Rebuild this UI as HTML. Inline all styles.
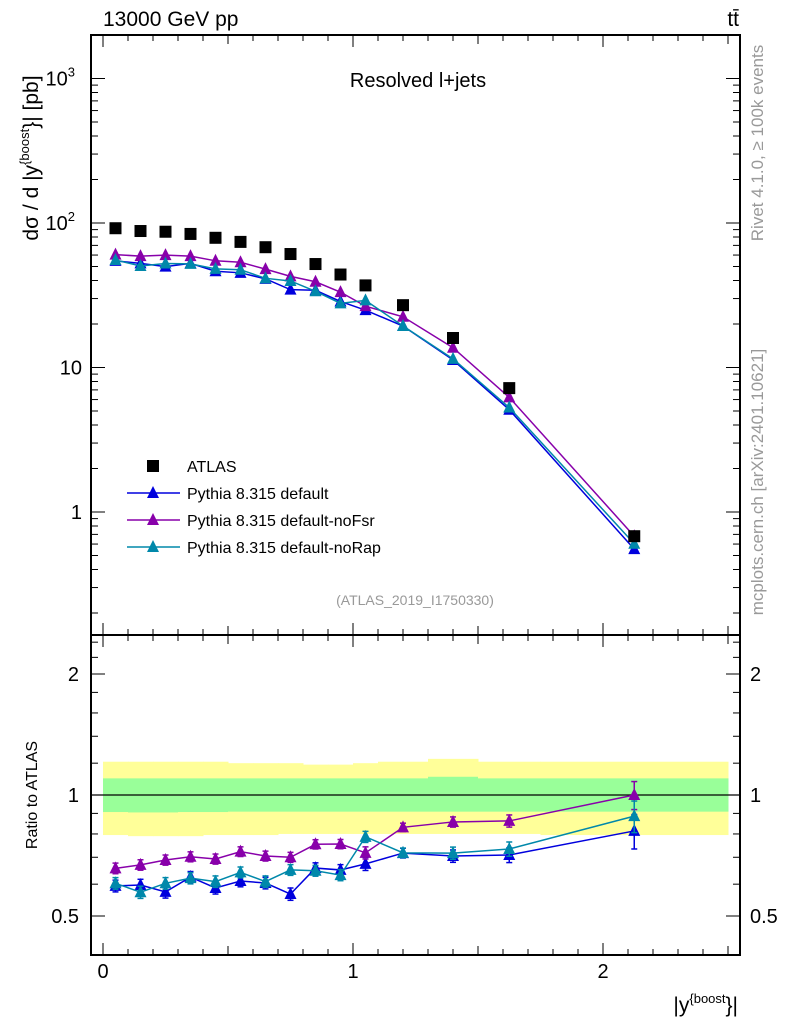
<!DOCTYPE html>
<html><head><meta charset="utf-8"><style>
body{margin:0;background:#fff;}
svg{display:block;font-family:"Liberation Sans",sans-serif;}
</style></head><body>
<svg id="c" width="786" height="1024"></svg>
<script>
const xCenters=[0.05,0.15,0.25,0.35,0.45,0.55,0.65,0.75,0.85,0.95,1.05,1.2,1.4,1.625,2.125];
const xLo=[0,0.1,0.2,0.3,0.4,0.5,0.6,0.7,0.8,0.9,1.0,1.1,1.3,1.5,1.75];
const xHi=[0.1,0.2,0.3,0.4,0.5,0.6,0.7,0.8,0.9,1.0,1.1,1.3,1.5,1.75,2.5];
const atlas=[92,88,87,84,79,74,68,61,52,44,37,27,16,7.2,0.68];
const ratioDefault=[0.594,0.597,0.574,0.625,0.587,0.611,0.604,0.567,0.658,0.651,0.674,0.717,0.705,0.709,0.814];
const ratioNoFsr=[0.657,0.670,0.689,0.702,0.693,0.723,0.705,0.700,0.754,0.755,0.718,0.831,0.857,0.862,1.0];
const ratioNoRap=[0.603,0.573,0.603,0.621,0.609,0.642,0.609,0.651,0.648,0.632,0.787,0.718,0.717,0.734,0.886];
const ratioErr=[0.02,0.02,0.02,0.02,0.02,0.02,0.02,0.02,0.02,0.02,0.025,0.02,0.025,0.03,0.08];
const greenUp=[1.10,1.10,1.10,1.10,1.10,1.10,1.10,1.10,1.10,1.10,1.10,1.10,1.11,1.10,1.10];
const greenDn=[0.907,0.905,0.905,0.907,0.907,0.909,0.909,0.909,0.909,0.909,0.909,0.909,0.909,0.909,0.909];
const yelUp=[1.21,1.21,1.21,1.21,1.21,1.20,1.20,1.20,1.19,1.19,1.20,1.21,1.23,1.21,1.21];
const yelDn=[0.795,0.79,0.79,0.79,0.795,0.795,0.795,0.80,0.80,0.80,0.80,0.80,0.80,0.80,0.795];
const xTicks=[0,1,2];
const mainTicks=[[1000,"10","3"],[100,"10","2"],[10,"10",""],[1,"1",""]];
const ratioTicks=[[2,"2"],[1,"1"],[0.5,"0.5"]];

const NS="http://www.w3.org/2000/svg";
const svg=document.getElementById('c');
function el(tag,attrs,parent){const e=document.createElementNS(NS,tag);for(const k in attrs)e.setAttribute(k,attrs[k]);(parent||svg).appendChild(e);return e;}
const L=91,R=740,T=35,M=635,B=955;
const X=v=>103+250*v;
const Y=v=>512-144.5*Math.log10(v);
const RY=v=>795-121*Math.log2(v);
const COL={def:"#0000dd",fsr:"#8800aa",rap:"#0088aa"};

for(let i=0;i<xCenters.length;i++){
  const r1=el('rect',{x:X(xLo[i]),y:RY(yelUp[i]),width:X(xHi[i])-X(xLo[i])+0.5,height:RY(yelDn[i])-RY(yelUp[i]),fill:"#ffff99"});
  
  const r2=el('rect',{x:X(xLo[i]),y:RY(greenUp[i]),width:X(xHi[i])-X(xLo[i])+0.5,height:RY(greenDn[i])-RY(greenUp[i]),fill:"#99ff99"});
  
}
el('line',{x1:L,x2:R,y1:RY(1),y2:RY(1),stroke:"#000","stroke-width":1.2});

const f1=el('rect',{x:L,y:T,width:R-L,height:M-T,fill:"none",stroke:"#000","stroke-width":2});

const f2=el('rect',{x:L,y:M,width:R-L,height:B-M,fill:"none",stroke:"#000","stroke-width":2});


for(let k=0;k<=25;k++){
  const v=k/10, x=X(v); if(x<L||x>R) continue;
  const len=(k%10==0)?12:(k%5==0?9:6);
  for(const [top,bot] of [[T,M],[M,B]]){
    el('line',{x1:x,x2:x,y1:bot,y2:bot-len,stroke:"#000","stroke-width":1});
    el('line',{x1:x,x2:x,y1:top,y2:top+len,stroke:"#000","stroke-width":1});
  }
}
xTicks.forEach(v=>{const t=el('text',{x:X(v),y:978,"font-size":20,"text-anchor":"middle"});t.textContent=v;
 });

for(let d=-1;d<=3;d++){for(let m=1;m<=9;m++){const v=m*Math.pow(10,d);const y=Y(v);if(y<T||y>M)continue;
  const len=m==1?14:7;
  el('line',{x1:L,x2:L+len,y1:y,y2:y,stroke:"#000"});el('line',{x1:R,x2:R-len,y1:y,y2:y,stroke:"#000"});}}
mainTicks.forEach(([v,b,e])=>{const t=el('text',{x:e?75:82,y:Y(v)+7,"font-size":20,"text-anchor":"end"});
 t.textContent=b; if(e){const s=el('tspan',{"font-size":13,dy:-9},t);s.textContent=e;}
 });

[0.5,0.6,0.7,0.8,0.9,1,1.2,1.4,1.6,1.8,2,2.2,2.4].forEach(v=>{const y=RY(v);const len=(v==0.5||v==1||v==2)?14:7;
 el('line',{x1:L,x2:L+len,y1:y,y2:y,stroke:"#000"});el('line',{x1:R,x2:R-len,y1:y,y2:y,stroke:"#000"});});
ratioTicks.forEach(([v,s])=>{
 const t=el('text',{x:79,y:RY(v)+7,"font-size":20,"text-anchor":"end"});t.textContent=s;
 
 const t2=el('text',{x:750,y:RY(v)+7,"font-size":20});t2.textContent=s;
 });

function tri(x,y,c,name){const p=el('polygon',{points:`${x},${y-7} ${x-6},${y+5} ${x+6},${y+5}`,fill:c});
 }

const series=[["def",ratioDefault,"pythia-default"],["fsr",ratioNoFsr,"pythia-nofsr"],["rap",ratioNoRap,"pythia-norap"]];
series.forEach(([k,r,n])=>{
  const pts=xCenters.map((x,i)=>`${X(x)},${Y(atlas[i]*r[i])}`).join(' ');
  const pl=el('polyline',{points:pts,fill:"none",stroke:COL[k],"stroke-width":1.5});
  
  xCenters.forEach((x,i)=>tri(X(x),Y(atlas[i]*r[i]),COL[k],n+'-point'));
});
xCenters.forEach((x,i)=>{const s=el('rect',{x:X(x)-6,y:Y(atlas[i])-6,width:12,height:12,fill:"#000"});
 });

series.forEach(([k,r,n])=>{
  const pts=xCenters.map((x,i)=>`${X(x)},${RY(r[i])}`).join(' ');
  const pl=el('polyline',{points:pts,fill:"none",stroke:COL[k],"stroke-width":1.5});
  
  xCenters.forEach((x,i)=>{const xx=X(x),y1=RY(r[i]+ratioErr[i]),y2=RY(r[i]-ratioErr[i]);
    el('line',{x1:xx,x2:xx,y1:y1,y2:y2,stroke:COL[k],"stroke-width":1.5});
    el('line',{x1:xx-3,x2:xx+3,y1:y1,y2:y1,stroke:COL[k],"stroke-width":1.5});
    el('line',{x1:xx-3,x2:xx+3,y1:y2,y2:y2,stroke:COL[k],"stroke-width":1.5});
    tri(xx,RY(r[i]),COL[k],n+'-ratio-point');});
});
</script>
<svg width="786" height="1024" style="position:absolute;left:0;top:0;font-family:'Liberation Sans',sans-serif">
<text x="103" y="26" font-size="21">13000 GeV pp</text>
<text x="739" y="26" font-size="21" text-anchor="end">tt̄</text>
<text x="418" y="87" font-size="20" text-anchor="middle">Resolved l+jets</text>
<text x="415" y="605" font-size="14" fill="#999" text-anchor="middle">(ATLAS_2019_I1750330)</text>
<text transform="translate(38,158) rotate(-90)" font-size="21" text-anchor="middle">dσ / d |y<tspan font-size="13" dy="-9">{boost</tspan><tspan dy="9">}| [pb]</tspan></text>
<text transform="translate(37,795) rotate(-90)" font-size="16" text-anchor="middle">Ratio to ATLAS</text>
<text x="738" y="1012" font-size="21" text-anchor="end">|y<tspan font-size="13" dy="-9">{boost</tspan><tspan dy="9">}|</tspan></text>
<text transform="translate(763,143) rotate(-90)" font-size="17" fill="#999" text-anchor="middle">Rivet 4.1.0, ≥ 100k events</text>
<text transform="translate(763,482) rotate(-90)" font-size="17" fill="#999" text-anchor="middle">mcplots.cern.ch [arXiv:2401.10621]</text>
<g>
<rect x="147" y="460" width="12" height="12" fill="#000"/>
<text x="187" y="472" font-size="16">ATLAS</text>
<line x1="127" x2="180" y1="493" y2="493" stroke="#0000dd" stroke-width="1.5"/>
<polygon points="153,486 147,498 159,498" fill="#0000dd"/>
<text x="187" y="499" font-size="16">Pythia 8.315 default</text>
<line x1="127" x2="180" y1="520" y2="520" stroke="#8800aa" stroke-width="1.5"/>
<polygon points="153,513 147,525 159,525" fill="#8800aa"/>
<text x="187" y="526" font-size="16">Pythia 8.315 default-noFsr</text>
<line x1="127" x2="180" y1="547" y2="547" stroke="#0088aa" stroke-width="1.5"/>
<polygon points="153,540 147,552 159,552" fill="#0088aa"/>
<text x="187" y="553" font-size="16">Pythia 8.315 default-noRap</text>
</g>
</svg>
</body></html>
